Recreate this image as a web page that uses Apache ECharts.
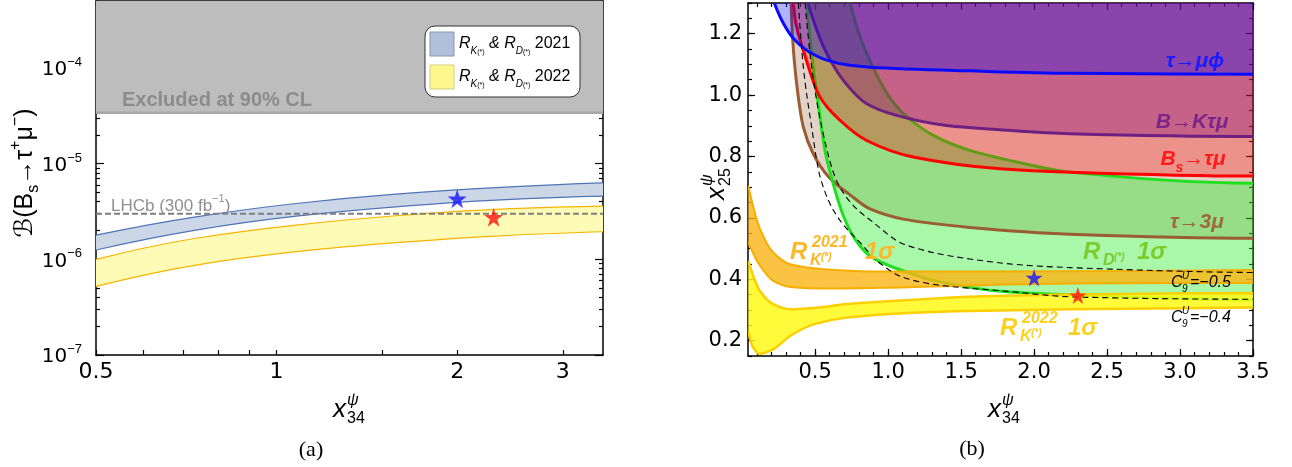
<!DOCTYPE html>
<html>
<head>
<meta charset="utf-8">
<script src="https://cdn.jsdelivr.net/npm/echarts@6/dist/echarts.min.js"></script>
<style>
  html, body { margin: 0; padding: 0; background: #fff; }
  #chart { width: 1292px; height: 467px; }
</style>
</head>
<body>
<div id="chart"></div>
<script>
// ---------- panel (a): B(Bs -> tau+ mu-) versus x34 ----------
const brX      = [0.5, 0.734, 1.078, 1.58, 2.32, 3.5];
const br2021Hi = [1.79e-6, 2.78e-6, 3.83e-6, 4.79e-6, 5.62e-6, 6.28e-6];
const br2021Lo = [1.25e-6, 2.02e-6, 2.82e-6, 3.53e-6, 4.15e-6, 4.57e-6];
const br2022Hi = [1.00e-6, 1.66e-6, 2.28e-6, 2.85e-6, 3.32e-6, 3.59e-6];
const br2022Lo = [5.2e-7, 8.7e-7, 1.20e-6, 1.49e-6, 1.75e-6, 1.94e-6];
const brExcluded = 3.4e-5;          // 90% CL upper limit
const brLHCb = 3.0e-6;              // LHCb reach with 300 fb^-1
const brStar2021 = [2.0, 4.3e-6];
const brStar2022 = [2.3, 2.75e-6];
const aXLabels = [0.5, 1, 2, 3];
const aXTicks = [0.5, 0.6, 0.7, 0.8, 0.9, 1, 1.5, 2, 3];
const aYLabels = [1e-7, 1e-6, 1e-5, 1e-4];
const aYMantissa = [2, 3, 4, 5, 6, 7, 8, 9];

// ---------- panel (b): constraints in the (x34, x25) plane ----------
const tauMuPhi = [[0.22,1.3],[0.282,1.234],[0.35,1.185],[0.442,1.146],[0.579,1.114],[0.739,1.097],[0.876,1.091],[1.56,1.079],[2.245,1.071],[3.5,1.068]];
const bToKTauMu = [[0.45,1.3],[0.565,1.15],[0.715,1.035],[0.853,0.972],[1.058,0.934],[1.4,0.901],[1.766,0.887],[2.245,0.874],[3.5,0.865]];
const bsTauMu = [[0.35,1.3],[0.365,1.24],[0.419,1.146],[0.533,0.994],[0.67,0.918],[0.853,0.852],[1.172,0.798],[1.766,0.76],[2.245,0.749],[3.5,0.736]];
const tau3Mu = [[0.335,1.3],[0.345,1.19],[0.373,1.038],[0.419,0.896],[0.487,0.809],[0.59,0.735],[0.739,0.675],[0.876,0.629],[1.104,0.596],[1.56,0.569],[2.245,0.547],[3.5,0.534]];
const rdUpper = [[0.74,1.3],[0.8,1.2],[0.887,1.1],[1.0,1.0],[1.104,0.94],[1.332,0.863],[1.56,0.82],[1.903,0.78],[2.245,0.749],[3.5,0.713]];
const rdLower = [[0.442,1.3],[0.487,1.092],[0.522,0.97],[0.567,0.82],[0.61,0.735],[0.693,0.607],[0.773,0.531],[0.876,0.476],[1.104,0.427],[1.332,0.394],[1.789,0.36],[2.245,0.349],[3.5,0.332]];
const rk2021Upper = [[0.042,0.705],[0.122,0.564],[0.213,0.487],[0.328,0.449],[0.556,0.433],[0.944,0.425],[2.245,0.426],[3.5,0.43]];
const rk2021Lower = [[0.042,0.52],[0.122,0.444],[0.213,0.395],[0.328,0.375],[0.556,0.37],[0.944,0.372],[1.56,0.38],[2.245,0.386],[3.5,0.388]];
const rk2022Upper = [[0.042,0.46],[0.122,0.362],[0.213,0.319],[0.328,0.302],[0.487,0.306],[0.716,0.319],[1.17,0.333],[1.56,0.343],[2.245,0.35],[3.5,0.355]];
const rk2022Lower = [[0.042,0.23],[0.076,0.177],[0.122,0.157],[0.213,0.172],[0.328,0.215],[0.487,0.253],[0.716,0.275],[1.17,0.291],[1.56,0.297],[2.245,0.302],[3.5,0.308]];
const c9Minus04 = [[0.385,1.3],[0.419,1.092],[0.476,0.896],[0.533,0.735],[0.648,0.607],[0.807,0.52],[0.944,0.452],[1.104,0.406],[1.332,0.382],[1.789,0.362],[2.291,0.342],[3.5,0.335]];
const c9Minus05 = [[0.431,1.3],[0.476,1.092],[0.545,0.896],[0.648,0.72],[0.762,0.64],[0.899,0.585],[1.104,0.515],[1.56,0.466],[1.99,0.444],[2.245,0.438],[3.5,0.422]];
const xyStar2021 = [2.0, 0.405];
const xyStar2022 = [2.3, 0.347];
const bXLabels = [0.5, 1.0, 1.5, 2.0, 2.5, 3.0, 3.5];
const bYLabels = [0.2, 0.4, 0.6, 0.8, 1.0, 1.2];
const bXRange = [0.04, 3.5];
const bYRange = [0.15, 1.3];

// minor tick positions
const aYTicks = [];
[1e-7, 1e-6, 1e-5, 1e-4].forEach(d => aYMantissa.forEach(m => { if (m * d <= 5e-4) aYTicks.push(m * d); }));
const bXMinor = [], bYMinor = [];
for (let i = 1; i <= 35; i++) bXMinor.push(+(i / 10).toFixed(2));
for (let i = 3; i <= 26; i++) bYMinor.push(+(i * 0.05).toFixed(2));

const zip = (xs, ys) => xs.map((x, i) => [x, ys[i]]);
const a2021Hi = zip(brX, br2021Hi), a2021Lo = zip(brX, br2021Lo);
const a2022Hi = zip(brX, br2022Hi), a2022Lo = zip(brX, br2022Lo);

const tickFont = '"DejaVu Sans", sans-serif';
const textFont = '"Liberation Sans", "DejaVu Sans", sans-serif';
const serifFont = '"Liberation Serif", "DejaVu Serif", serif';

// shape-preserving (PCHIP) cubic through points with increasing pixel x
function endSlope(h0, h1, d0, d1) {
  let m = ((2 * h0 + h1) * d0 - h0 * d1) / (h0 + h1);
  if (Math.sign(m) !== Math.sign(d0)) m = 0;
  else if (Math.sign(d0) !== Math.sign(d1) && Math.abs(m) > Math.abs(3 * d0)) m = 3 * d0;
  return m;
}
function pchipSegments(p) {
  const n = p.length, h = [], d = [], m = [];
  for (let i = 0; i < n - 1; i++) { h[i] = p[i + 1][0] - p[i][0]; d[i] = (p[i + 1][1] - p[i][1]) / h[i]; }
  if (n === 2) { m[0] = m[1] = d[0]; }
  else {
    for (let i = 1; i < n - 1; i++) {
      if (d[i - 1] * d[i] <= 0) m[i] = 0;
      else {
        const w1 = 2 * h[i] + h[i - 1], w2 = h[i] + 2 * h[i - 1];
        m[i] = (w1 + w2) / (w1 / d[i - 1] + w2 / d[i]);
      }
    }
    m[0] = endSlope(h[0], h[1], d[0], d[1]);
    m[n - 1] = endSlope(h[n - 2], h[n - 3], d[n - 2], d[n - 3]);
  }
  const segs = [];
  for (let i = 0; i < n - 1; i++) {
    const a = p[i], b = p[i + 1], k = h[i] / 3;
    segs.push([a, [a[0] + k, a[1] + m[i] * k], [b[0] - k, b[1] - m[i + 1] * k], b]);
  }
  return segs;
}
const f = v => v.toFixed(2);
function curvePath(api, pts, cmd, reverse) {
  const p = pts.map(q => api.coord(q));
  const segs = pchipSegments(p);
  if (!reverse) {
    let d = cmd + f(p[0][0]) + ' ' + f(p[0][1]);
    segs.forEach(s => { d += ' C' + [s[1], s[2], s[3]].map(q => f(q[0]) + ' ' + f(q[1])).join(' '); });
    return d;
  }
  const last = p[p.length - 1];
  let d = cmd + f(last[0]) + ' ' + f(last[1]);
  segs.slice().reverse().forEach(s => { d += ' C' + [s[2], s[1], s[0]].map(q => f(q[0]) + ' ' + f(q[1])).join(' '); });
  return d;
}
function bandPath(api, hi, lo) {
  return curvePath(api, hi, 'M') + ' ' + curvePath(api, lo, 'L', true) + ' Z';
}
function abovePath(api, pts, yTop) {
  const r = api.coord([pts[pts.length - 1][0], yTop]);
  const l = api.coord([pts[0][0], yTop]);
  return curvePath(api, pts, 'M') + ' L' + f(r[0]) + ' ' + f(r[1]) + ' L' + f(l[0]) + ' ' + f(l[1]) + ' Z';
}
function shape(xi, yi, anchor, pathFn, style) {
  return {
    type: 'custom', coordinateSystem: 'cartesian2d', xAxisIndex: xi, yAxisIndex: yi,
    clip: true, silent: true, data: [anchor],
    renderItem: (params, api) => ({ type: 'path', shape: { pathData: pathFn(api) }, style: style })
  };
}
const fillStyle = c => ({ fill: c, stroke: null, lineWidth: 0 });
const lineStyle = (c, w, dash) => ({ fill: 'none', stroke: c, lineWidth: w, lineDash: dash || null, lineJoin: 'round', lineCap: 'butt' });

// panel (a) shapes
const A = (fn, st, anchor) => shape(0, 0, anchor || [1, 1e-6], fn, st);
// panel (b) shapes
const B = (fn, st, anchor) => shape(2, 4, anchor || [1, 0.5], fn, st);

const starPath = 'path://M50,0 L61.2,34.5 L97.6,34.5 L68.2,55.9 L79.4,90.5 L50,69.1 L20.6,90.5 L31.8,55.9 L2.4,34.5 L38.8,34.5 Z';

// axis helpers
const frame = { show: true, onZero: false, lineStyle: { color: '#000', width: 1.5 } };
function axis(o) {
  return Object.assign({ splitLine: { show: false }, axisLine: frame, axisLabel: { show: false }, axisTick: { show: false } }, o);
}
const ticks = (vals, len) => ({ show: true, inside: true, length: len, customValues: vals, lineStyle: { color: '#000', width: 1.2 } });

const aX = { gridIndex: 0, type: 'log', min: 0.5, max: 3.5 };
const aY = { gridIndex: 0, type: 'log', min: 1e-7, max: 5e-4 };
const bX = { gridIndex: 1, type: 'value', min: bXRange[0], max: bXRange[1] };
const bY = { gridIndex: 1, type: 'value', min: bYRange[0], max: bYRange[1] };

const xAxis = [
  axis(Object.assign({}, aX, { position: 'bottom', axisTick: ticks(aXTicks, 5),
    axisLabel: { show: true, customValues: aXLabels, formatter: v => String(Math.round(v * 10) / 10),
      fontFamily: tickFont, fontSize: 22, color: '#000', margin: 6 } })),
  axis(Object.assign({}, aX, { position: 'top', axisTick: ticks(aXTicks, 5) })),
  axis(Object.assign({}, bX, { position: 'bottom', axisTick: ticks(bXLabels, 7),
    axisLabel: { show: true, customValues: bXLabels, formatter: v => v.toFixed(1),
      fontFamily: tickFont, fontSize: 21, color: '#000', margin: 6 } })),
  axis(Object.assign({}, bX, { position: 'bottom', axisLine: { show: false }, axisTick: ticks(bXMinor, 4) })),
  axis(Object.assign({}, bX, { position: 'top', axisTick: ticks(bXLabels, 7) })),
  axis(Object.assign({}, bX, { position: 'top', axisLine: { show: false }, axisTick: ticks(bXMinor, 4) }))
];
const yAxis = [
  axis(Object.assign({}, aY, { position: 'left', axisTick: ticks(aYLabels, 8),
    axisLabel: { show: true, customValues: aYLabels, margin: 14,
      formatter: v => '{b|10}{s|−' + (-Math.round(Math.log10(v))) + '}',
      rich: { b: { fontFamily: tickFont, fontSize: 20, color: '#000', lineHeight: 24, verticalAlign: 'bottom' },
              s: { fontFamily: textFont, fontSize: 13, color: '#000', lineHeight: 16, verticalAlign: 'top' } } } })),
  axis(Object.assign({}, aY, { position: 'left', axisLine: { show: false }, axisTick: ticks(aYTicks, 4) })),
  axis(Object.assign({}, aY, { position: 'right', axisTick: ticks(aYLabels, 8) })),
  axis(Object.assign({}, aY, { position: 'right', axisLine: { show: false }, axisTick: ticks(aYTicks, 4) })),
  axis(Object.assign({}, bY, { position: 'left', axisTick: ticks(bYLabels, 7),
    axisLabel: { show: true, customValues: bYLabels, formatter: v => v.toFixed(1),
      fontFamily: tickFont, fontSize: 21, color: '#000', margin: 6 } })),
  axis(Object.assign({}, bY, { position: 'left', axisLine: { show: false }, axisTick: ticks(bYMinor, 4) })),
  axis(Object.assign({}, bY, { position: 'right', axisTick: ticks(bYLabels, 7) })),
  axis(Object.assign({}, bY, { position: 'right', axisLine: { show: false }, axisTick: ticks(bYMinor, 4) }))
];

const series = [
  // (a) excluded region and its boundary
  A(api => { const p = api.coord([0.5, brExcluded]), q = api.coord([3.5, 5e-4]);
             return 'M' + p[0] + ' ' + p[1] + ' L' + q[0] + ' ' + p[1] + ' L' + q[0] + ' ' + q[1] + ' L' + p[0] + ' ' + q[1] + ' Z'; },
    fillStyle('#bdbdbd'), [1, brExcluded]),
  A(api => { const p = api.coord([0.5, brExcluded]), q = api.coord([3.5, brExcluded]);
             return 'M' + p[0] + ' ' + p[1] + ' L' + q[0] + ' ' + q[1]; },
    lineStyle('#a8a8a8', 2.5), [1, brExcluded]),
  // (a) 2021 and 2022 bands
  A(api => bandPath(api, a2021Hi, a2021Lo), fillStyle('#cbd6e7')),
  A(api => curvePath(api, a2021Hi, 'M'), lineStyle('#4f75b8', 1.2)),
  A(api => curvePath(api, a2021Lo, 'M'), lineStyle('#4f75b8', 1.2)),
  A(api => bandPath(api, a2022Hi, a2022Lo), fillStyle('#fdfbb5')),
  A(api => curvePath(api, a2022Hi, 'M'), lineStyle('#f6b400', 1.2)),
  A(api => curvePath(api, a2022Lo, 'M'), lineStyle('#f6b400', 1.2)),
  // (a) LHCb reach
  A(api => { const p = api.coord([0.5, brLHCb]), q = api.coord([3.5, brLHCb]);
             return 'M' + p[0] + ' ' + p[1] + ' L' + q[0] + ' ' + q[1]; },
    lineStyle('#7f7f7f', 2, [6, 3]), [1, brLHCb]),
  { type: 'scatter', xAxisIndex: 0, yAxisIndex: 0, symbol: starPath, symbolSize: 19, silent: true, z: 5,
    data: [{ value: brStar2021, itemStyle: { color: '#1414ff' } }, { value: brStar2022, itemStyle: { color: '#ff1010' } }] },

  // (b) exclusion regions and the R_D(*) band
  B(api => abovePath(api, tau3Mu, bYRange[1]), fillStyle('rgba(150,95,55,0.28)')),
  B(api => curvePath(api, rdLower, 'M') + ' ' + curvePath(api, rdUpper, 'L', true) + ' Z', fillStyle('rgba(40,235,40,0.4)')),
  B(api => curvePath(api, tau3Mu, 'M'), lineStyle('#9a5c33', 3)),
  B(api => curvePath(api, rdLower, 'M'), lineStyle('#1ee01e', 3)),
  B(api => curvePath(api, rdUpper, 'M'), lineStyle('#1ee01e', 3)),
  B(api => abovePath(api, bsTauMu, bYRange[1]), fillStyle('rgba(255,0,0,0.3)')),
  B(api => curvePath(api, bsTauMu, 'M'), lineStyle('#ff0000', 3)),
  B(api => abovePath(api, bToKTauMu, bYRange[1]), fillStyle('rgba(128,0,128,0.33)')),
  B(api => curvePath(api, bToKTauMu, 'M'), lineStyle('#6e2080', 3)),
  B(api => abovePath(api, tauMuPhi, bYRange[1]), fillStyle('rgba(0,0,255,0.3)')),
  B(api => curvePath(api, tauMuPhi, 'M'), lineStyle('#0a0aff', 3)),
  // (b) R_K(*) bands
  B(api => bandPath(api, rk2021Upper, rk2021Lower), fillStyle('rgba(250,180,20,0.8)')),
  B(api => curvePath(api, rk2021Upper, 'M'), lineStyle('#f6ae00', 2)),
  B(api => curvePath(api, rk2021Lower, 'M'), lineStyle('#f6ae00', 2)),
  B(api => bandPath(api, rk2022Upper, rk2022Lower), fillStyle('rgba(255,250,25,0.85)')),
  B(api => curvePath(api, rk2022Upper, 'M'), lineStyle('#fcd000', 2.5)),
  B(api => curvePath(api, rk2022Lower, 'M'), lineStyle('#fcd000', 2.5)),
  // (b) C9 contours
  B(api => curvePath(api, c9Minus05, 'M'), lineStyle('#000', 1.1, [6, 4])),
  B(api => curvePath(api, c9Minus04, 'M'), lineStyle('#000', 1.1, [6, 4])),
  { type: 'scatter', xAxisIndex: 2, yAxisIndex: 4, symbol: starPath, symbolSize: 17, silent: true, z: 5,
    data: [{ value: xyStar2021, itemStyle: { color: '#1414ff' } }, { value: xyStar2022, itemStyle: { color: '#ff1010' } }] }
];

// ---------- text ----------
function txt(x, y, text, o) {
  const st = Object.assign({ text: text, fontFamily: textFont, fontSize: 20, fill: '#000',
                             align: 'left', verticalAlign: 'middle' }, o || {});
  st.textAlign = st.align; st.textVerticalAlign = st.verticalAlign;
  return { type: 'text', x: x, y: y, z: 100, silent: true, style: st };
}
const bi = (c, s) => ({ fill: c, fontSize: s, fontWeight: 'bold', fontStyle: 'italic' });

// R with a sup/sub pair, e.g. R^{2021}_{K(*)}
function rLabel(x, y, sup, sub, color, sigmaX) {
  const els = [
    txt(x, y, 'R', bi(color, 24)),
    txt(x + 20, y + 9, sub, bi(color, 16)),
    txt(x + 31, y + 5, '(*)', bi(color, 10))
  ];
  if (sup) els.push(txt(x + 22, y - 9, sup, bi(color, 16)));
  els.push(txt(sigmaX, y, '1σ', bi(color, 24)));
  return els;
}
// x^psi_nn axis title
function xPsi(x, y, sub, rot) {
  return { type: 'group', x: x, y: y, rotation: rot || 0, silent: true, z: 100, children: [
    txt(-14, 0, 'x', { fontSize: 26, fontStyle: 'italic', align: 'left' }),
    txt(0, -9, 'ψ', { fontSize: 16, fontStyle: 'italic', align: 'left' }),
    txt(0, 9, sub, { fontSize: 16, align: 'left' })
  ] };
}
function c9Label(x, y, val) {
  return [
    txt(x, y, 'C', { fontSize: 16, fontStyle: 'italic' }),
    txt(x + 11, y - 7, 'U', { fontSize: 10, fontStyle: 'italic' }),
    txt(x + 11, y + 6, '9', { fontSize: 10, fontStyle: 'italic' }),
    txt(x + 19, y, '=−' + val, { fontSize: 16, fontStyle: 'italic' })
  ];
}
const legendText = year => ({
  text: '{n|R}{k|K}{t|(*)}{n| & }{n|R}{k|D}{t|(*)}{m| ' + year + '}',
  rich: {
    n: { fontFamily: textFont, fontSize: 16, fontStyle: 'italic', fill: '#000', color: '#000', lineHeight: 24, verticalAlign: 'middle' },
    m: { fontFamily: textFont, fontSize: 16, fill: '#000', color: '#000', lineHeight: 24, verticalAlign: 'middle' },
    k: { fontFamily: textFont, fontSize: 10, fontStyle: 'italic', fill: '#000', color: '#000', lineHeight: 10, verticalAlign: 'bottom' },
    t: { fontFamily: textFont, fontSize: 7, fill: '#000', color: '#000', lineHeight: 16, verticalAlign: 'bottom' }
  }
});

const yTitleA = txt(0, 0, '', { align: 'center', text: '{n|ℬ(B}{b|s}{n|→τ}{p|+}{n|μ}{p|−}{n|)}', rich: {
  n: { fontFamily: textFont, fontSize: 25, fill: '#000', color: '#000', lineHeight: 34, verticalAlign: 'middle' },
  b: { fontFamily: textFont, fontSize: 16, fill: '#000', color: '#000', lineHeight: 16, verticalAlign: 'bottom' },
  p: { fontFamily: textFont, fontSize: 16, fill: '#000', color: '#000', lineHeight: 16, verticalAlign: 'top' } } });

const graphic = [
  // panel (a)
  txt(217, 100, 'Excluded at 90% CL', { align: 'center', fontSize: 20, fontWeight: 'bold', fill: '#8c8c8c' }),
  txt(111, 204, '', { text: '{n|LHCb (300 fb}{s|−1}{n|)}', rich: {
    n: { fontFamily: textFont, fontSize: 17, fill: '#8f8f8f', color: '#8f8f8f', lineHeight: 22, verticalAlign: 'bottom' },
    s: { fontFamily: textFont, fontSize: 11, fill: '#8f8f8f', color: '#8f8f8f', lineHeight: 12, verticalAlign: 'top' } } }),
  { type: 'rect', z: 90, silent: true, shape: { x: 425, y: 26, width: 155, height: 71, r: 10 },
    style: { fill: '#fff', stroke: '#333', lineWidth: 1 } },
  { type: 'rect', z: 91, silent: true, shape: { x: 430, y: 32, width: 24, height: 24 },
    style: { fill: '#aec0da', stroke: '#8a98ae', lineWidth: 1 } },
  { type: 'rect', z: 91, silent: true, shape: { x: 430, y: 65, width: 24, height: 24 },
    style: { fill: '#fff78c', stroke: '#d3cc80', lineWidth: 1 } },
  txt(459, 44, '', legendText('2021')),
  txt(459, 77, '', legendText('2022')),
  { type: 'group', x: 25, y: 173, rotation: Math.PI / 2, silent: true, z: 100, children: [yTitleA] },
  xPsi(347, 410, '34'),
  txt(311, 450, '(a)', { align: 'center', fontFamily: serifFont, fontSize: 22 }),

  // panel (b)
  txt(1195, 61, 'τ→μϕ', Object.assign(bi('#1a1aff', 21), { align: 'center' })),
  txt(1192, 122, 'B→Kτμ', Object.assign(bi('#7a258a', 21), { align: 'center' })),
  txt(1193, 162, '', { align: 'center', text: '{n|B}{s|s}{n|→τμ}', rich: {
    n: { fontFamily: textFont, fontSize: 21, fontWeight: 'bold', fontStyle: 'italic', fill: '#ff1a1a', color: '#ff1a1a', lineHeight: 26, verticalAlign: 'top' },
    s: { fontFamily: textFont, fontSize: 14, fontWeight: 'bold', fontStyle: 'italic', fill: '#ff1a1a', color: '#ff1a1a', lineHeight: 14, verticalAlign: 'bottom' } } }),
  txt(1197, 222, 'τ→3μ', Object.assign(bi('#9c6a3c', 21), { align: 'center' })),
  ...rLabel(790, 252, '2021', 'K', '#fbb829', 865),
  ...rLabel(1000, 328, '2022', 'K', '#fbd11f', 1068),
  ...rLabel(1083, 252, null, 'D', '#7dcc2e', 1137),
  ...c9Label(1171, 283, '0.5'),
  ...c9Label(1171, 318, '0.4'),
  xPsi(1002, 410, '34'),
  xPsi(717, 186, '25', Math.PI / 2),
  txt(972, 449, '(b)', { align: 'center', fontFamily: serifFont, fontSize: 22 })
];

const chart = echarts.init(document.getElementById('chart'), null, { renderer: 'canvas', width: 1292, height: 467 });
chart.setOption({
  animation: false,
  backgroundColor: '#fff',
  grid: [
    { left: 96, top: 1, width: 507, height: 354, containLabel: false, outerBoundsMode: 'none' },
    { left: 748, top: 3, width: 505, height: 353, containLabel: false, outerBoundsMode: 'none' }
  ],
  xAxis: xAxis,
  yAxis: yAxis,
  series: series,
  graphic: graphic
});
</script>
</body>
</html>
